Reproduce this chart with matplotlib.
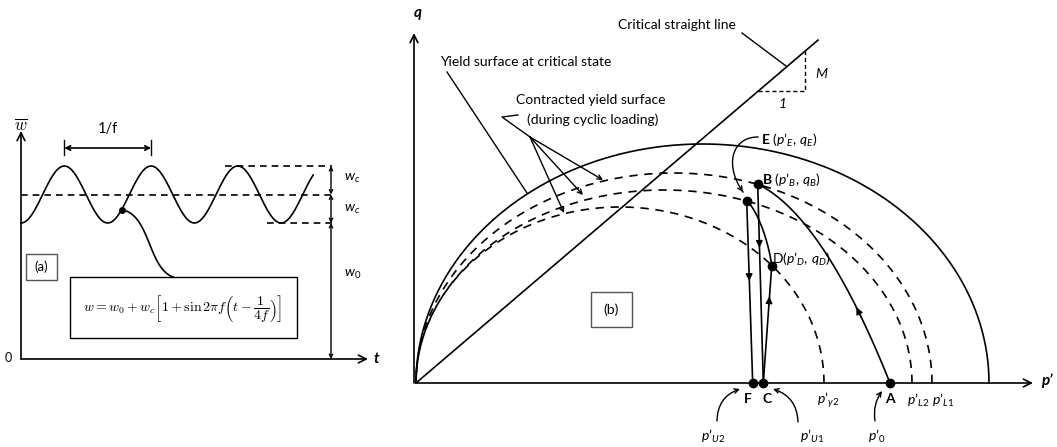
import numpy as np
import matplotlib.pyplot as plt
from matplotlib.patches import Rectangle

plt.rcParams['font.family'] = ['Lato', 'DejaVu Sans']
plt.rcParams['mathtext.fontset'] = 'custom'
plt.rcParams['mathtext.rm'] = 'Lato'
plt.rcParams['mathtext.it'] = 'Lato:italic'
plt.rcParams['mathtext.bf'] = 'Lato:bold'

# --- panel (a): cyclic load, w = w0 + wc[1 + sin 2pi f (t - 1/4f)] ---
W0 = 136.0          # static level
WC = 28.5           # cyclic amplitude
FREQ = 1.0
T_END = 3.37        # periods drawn

# --- panel (b): yield surfaces in p'-q plane (pixel-scaled units) ---
SURF_P = [573, 516, 496, 408]        # outer (critical), p'L1, p'L2, p'y2
SURF_Q = [239, 210, 193, 176]        # half-heights of the ellipses
SURF_DASHED = [False, True, True, True]
CSL_M = 0.853
CSL_END = 402

# stress points (p', q)
PT = {
    'A': (474.0, 0.0),
    'B': (341.7, 199.0),
    'E': (330.7, 182.3),
    'C': (347.3, 0.0),
    'D': (355.7, 117.0),
    'F': (336.7, 0.0),
}

# frame of each panel, in picture pixels
AX0, AY0 = 21, 359      # origin of panel (a)
T_PX = 86.7             # pixels per period
BX0, BY0 = 416, 383     # origin of panel (b)


def ta(t, w):
    return AX0 + T_PX * np.asarray(t), AY0 - np.asarray(w)


def tb(p, q):
    return BX0 + np.asarray(p), BY0 - np.asarray(q)


def bezier(pts, n=80):
    pts = np.asarray(pts, float)
    s = np.linspace(0, 1, n)[:, None]
    if len(pts) == 3:
        c = (1 - s) ** 2 * pts[0] + 2 * (1 - s) * s * pts[1] + s ** 2 * pts[2]
    else:
        c = ((1 - s) ** 3 * pts[0] + 3 * (1 - s) ** 2 * s * pts[1]
             + 3 * (1 - s) * s ** 2 * pts[2] + s ** 3 * pts[3])
    return c[:, 0], c[:, 1]


fig = plt.figure(figsize=(10.57, 4.47), dpi=100)
ax = fig.add_axes([0, 0, 1, 1])
ax.set_xlim(0, 1057)
ax.set_ylim(447, 0)
ax.axis('off')

LW = 1.2
K = 'black'
open_arrow = dict(arrowstyle='->', color=K, lw=LW, mutation_scale=14, shrinkA=0, shrinkB=0)
small_arrow = dict(arrowstyle='->', color=K, lw=1.0, mutation_scale=8, shrinkA=0, shrinkB=0)
fill_arrow = dict(arrowstyle='-|>', color=K, lw=1.0, mutation_scale=10, shrinkA=0, shrinkB=0)

# ================= panel (a) =================
ax.annotate('', xy=(AX0, 131), xytext=(AX0, AY0), arrowprops=open_arrow)
ax.annotate('', xy=(368, AY0), xytext=(AX0, AY0), arrowprops=open_arrow)
ax.text(AX0, 125, r'$\overline{w}$', ha='center', va='center', fontsize=12, math_fontfamily='cm')
ax.text(376, AY0, 't', ha='center', va='center', fontsize=11, fontweight='bold', style='italic')
ax.text(8, AY0 - 1, '0', ha='center', va='center', fontsize=9)

t = np.linspace(0, T_END, 400)
w = W0 + WC * (1 + np.sin(2 * np.pi * FREQ * (t - 1 / (4 * FREQ))))
x, y = ta(t, w)
ax.plot(x, y, color=K, lw=LW)

y_peak, y_mid, y_trough = AY0 - (W0 + 2 * WC), AY0 - (W0 + WC), AY0 - W0
ax.plot([AX0, 332], [y_mid, y_mid], color=K, lw=LW, ls=(0, (4, 3)))
ax.plot([225, 332], [y_peak, y_peak], color=K, lw=LW, ls=(0, (4, 3)))
ax.plot([267, 332], [y_trough, y_trough], color=K, lw=LW, ls=(0, (4, 3)))
for y1, y2 in [(y_peak, y_mid), (y_mid, y_trough), (y_trough, AY0)]:
    ax.annotate('', xy=(331, y1), xytext=(331, y2),
                arrowprops=dict(arrowstyle='<->', color=K, lw=1.0, mutation_scale=6, shrinkA=0, shrinkB=0))
ax.text(344, (y_peak + y_mid) / 2 - 2, r'$w_c$', ha='left', va='center', fontsize=10)
ax.text(344, (y_mid + y_trough) / 2 + 1, r'$w_c$', ha='left', va='center', fontsize=10)
ax.text(344, 274, r'$w_0$', ha='left', va='center', fontsize=10)

# 1/f dimension
xa, _ = ta(0.5, 0)
xb, _ = ta(1.5, 0)
ax.annotate('', xy=(xa, 148), xytext=(xb, 148),
            arrowprops=dict(arrowstyle='<->', color=K, lw=1.2, mutation_scale=8, shrinkA=0, shrinkB=0))
ax.plot([xa, xa], [140, 155], color=K, lw=1.0)
ax.plot([xb, xb], [140, 155], color=K, lw=1.0)
ax.text((xa + xb) / 2, 129, '1/f', ha='center', va='center', fontsize=10.5)

# dot and leader to the formula box
t_dot = 1.16
xd, yd = ta(t_dot, W0 + WC * (1 + np.sin(2 * np.pi * FREQ * (t_dot - 0.25))))
ax.plot(xd, yd, 'o', color=K, ms=4)
cx, cy = bezier([(xd, yd), (150, 214), (148, 268), (173, 277)])
ax.plot(cx, cy, color=K, lw=LW)

ax.add_patch(Rectangle((70, 277), 227, 61, fill=False, ec=K, lw=1.0))
ax.text(183, 308, r'$w = w_0 + w_c\left[1 + \sin 2\pi f\left(t - \dfrac{1}{4f}\right)\right]$',
        ha='center', va='center', fontsize=10, math_fontfamily='cm')
ax.add_patch(Rectangle((26, 254), 31, 26, fill=False, ec='#555555', lw=1.0))
ax.text(41.5, 267, '(a)', ha='center', va='center', fontsize=9.5)

# ================= panel (b) =================
ax.annotate('', xy=(BX0 - 2, 33), xytext=(BX0 - 2, BY0), arrowprops=open_arrow)
ax.annotate('', xy=(1033, BY0), xytext=(BX0, BY0), arrowprops=open_arrow)
ax.text(418, 13, 'q', ha='center', va='center', fontsize=11, fontweight='bold', style='italic')
ax.text(1047, 381, 'p’', ha='center', va='center', fontsize=11, fontweight='bold', style='italic')

th = np.linspace(0, np.pi, 300)
for p_end, q_top, dashed in zip(SURF_P, SURF_Q, SURF_DASHED):
    a = p_end / 2
    x, y = tb(a + a * np.cos(th), q_top * np.sin(th))
    ax.plot(x, y, color=K, lw=LW, ls=(0, (5, 4)) if dashed else '-')

# critical state line with slope triangle
x, y = tb([0, CSL_END], [0, CSL_M * CSL_END])
ax.plot(x, y, color=K, lw=LW)
p1, p2 = 342, 389
x, y = tb([p1, p2, p2], [CSL_M * p1, CSL_M * p1, CSL_M * p2])
ax.plot(x, y, color=K, lw=1.0, ls=(0, (3, 2)))
ax.text(815, 74, 'M', ha='left', va='center', fontsize=10, style='italic')
ax.text(783, 104, '1', ha='center', va='center', fontsize=10, style='italic')

# stress paths
x, y = bezier([tb(*PT['B']), tb(407.5, 166.5), tb(*PT['A'])])
ax.plot(x, y, color=K, lw=LW)
i = 62
ax.annotate('', xy=(x[i - 3], y[i - 3]), xytext=(x[i], y[i]), arrowprops=fill_arrow)

for s, e, frac in [('B', 'C', 0.3), ('E', 'F', 0.42), ('C', 'D', 0.72)]:
    x, y = tb(*zip(PT[s], PT[e]))
    ax.plot(x, y, color=K, lw=LW)
    xm, ym = x[0] + frac * (x[1] - x[0]), y[0] + frac * (y[1] - y[0])
    dx, dy = (x[1] - x[0]) * 0.02, (y[1] - y[0]) * 0.02
    ax.annotate('', xy=(xm + dx, ym + dy), xytext=(xm, ym), arrowprops=fill_arrow)

x, y = bezier([tb(*PT['E']), tb(342, 172), tb(353, 140), tb(*PT['D'])])
ax.plot(x, y, color=K, lw=LW)

for k in PT:
    x, y = tb(*PT[k])
    ax.plot(x, y, 'o', color=K, ms=6)

# labels
fs = 10
ax.text(618, 25, 'Critical straight line', ha='left', va='center', fontsize=fs)
ax.plot([742, 786], [33, 66], color=K, lw=1.0)
ax.text(440, 62, 'Yield surface at critical state', ha='left', va='center', fontsize=fs)
ax.plot([447, 527], [72, 193], color=K, lw=1.0)
ax.text(591, 100, 'Contracted yield surface', ha='center', va='center', fontsize=fs)
ax.text(593, 120, '(during cyclic loading)', ha='center', va='center', fontsize=fs)
ax.plot([518, 502, 530], [115, 117, 137], color=K, lw=1.0)
for tip in [(603, 180), (583, 195), (564, 213)]:
    ax.annotate('', xy=tip, xytext=(530, 137), arrowprops=small_arrow)

ax.text(761, 140, r'$\mathbf{E}\ (p’_{E},\, q_{E})$', ha='left', va='center', fontsize=fs)
cx, cy = bezier([(758, 137), (732, 137), (724, 165), (743, 192)])
ax.plot(cx, cy, color=K, lw=1.0)
ax.annotate('', xy=(cx[-1], cy[-1]), xytext=(cx[-4], cy[-4]), arrowprops=small_arrow)
ax.text(762, 180, r'$\mathbf{B}\ (p’_{B},\, q_{B})$', ha='left', va='center', fontsize=fs)
ax.text(772, 259, r'$\mathrm{D}(p’_{D},\, q_{D})$', ha='left', va='center', fontsize=fs)

for lab, xx in [('F', 748), ('C', 767), ('A', 890)]:
    ax.text(xx, 399, lab, ha='center', va='center', fontsize=fs, fontweight='bold')
for lab, xx in [(r'$p’_{y2}$', 828), (r'$p’_{L2}$', 918), (r'$p’_{L1}$', 943)]:
    ax.text(xx, 400, lab, ha='center', va='center', fontsize=fs)
for lab, xx in [(r'$p’_{U2}$', 713), (r'$p’_{U1}$', 812), (r'$p’_{0}$', 877)]:
    ax.text(xx, 436, lab, ha='center', va='center', fontsize=fs)

curved = dict(arrowstyle='->', color=K, lw=1.0, mutation_scale=8, shrinkA=0, shrinkB=0)
ax.annotate('', xy=(740, 389), xytext=(717, 421), arrowprops=dict(curved, connectionstyle='arc3,rad=-0.35'))
ax.annotate('', xy=(773, 389), xytext=(798, 422), arrowprops=dict(curved, connectionstyle='arc3,rad=0.35'))
ax.annotate('', xy=(882, 391), xytext=(875, 421), arrowprops=dict(curved, connectionstyle='arc3,rad=-0.2'))

ax.add_patch(Rectangle((591, 292), 41, 35, fill=False, ec='#555555', lw=1.0))
ax.text(611.5, 309.5, '(b)', ha='center', va='center', fontsize=fs)

fig.savefig('out.png', dpi=100, facecolor='white')
